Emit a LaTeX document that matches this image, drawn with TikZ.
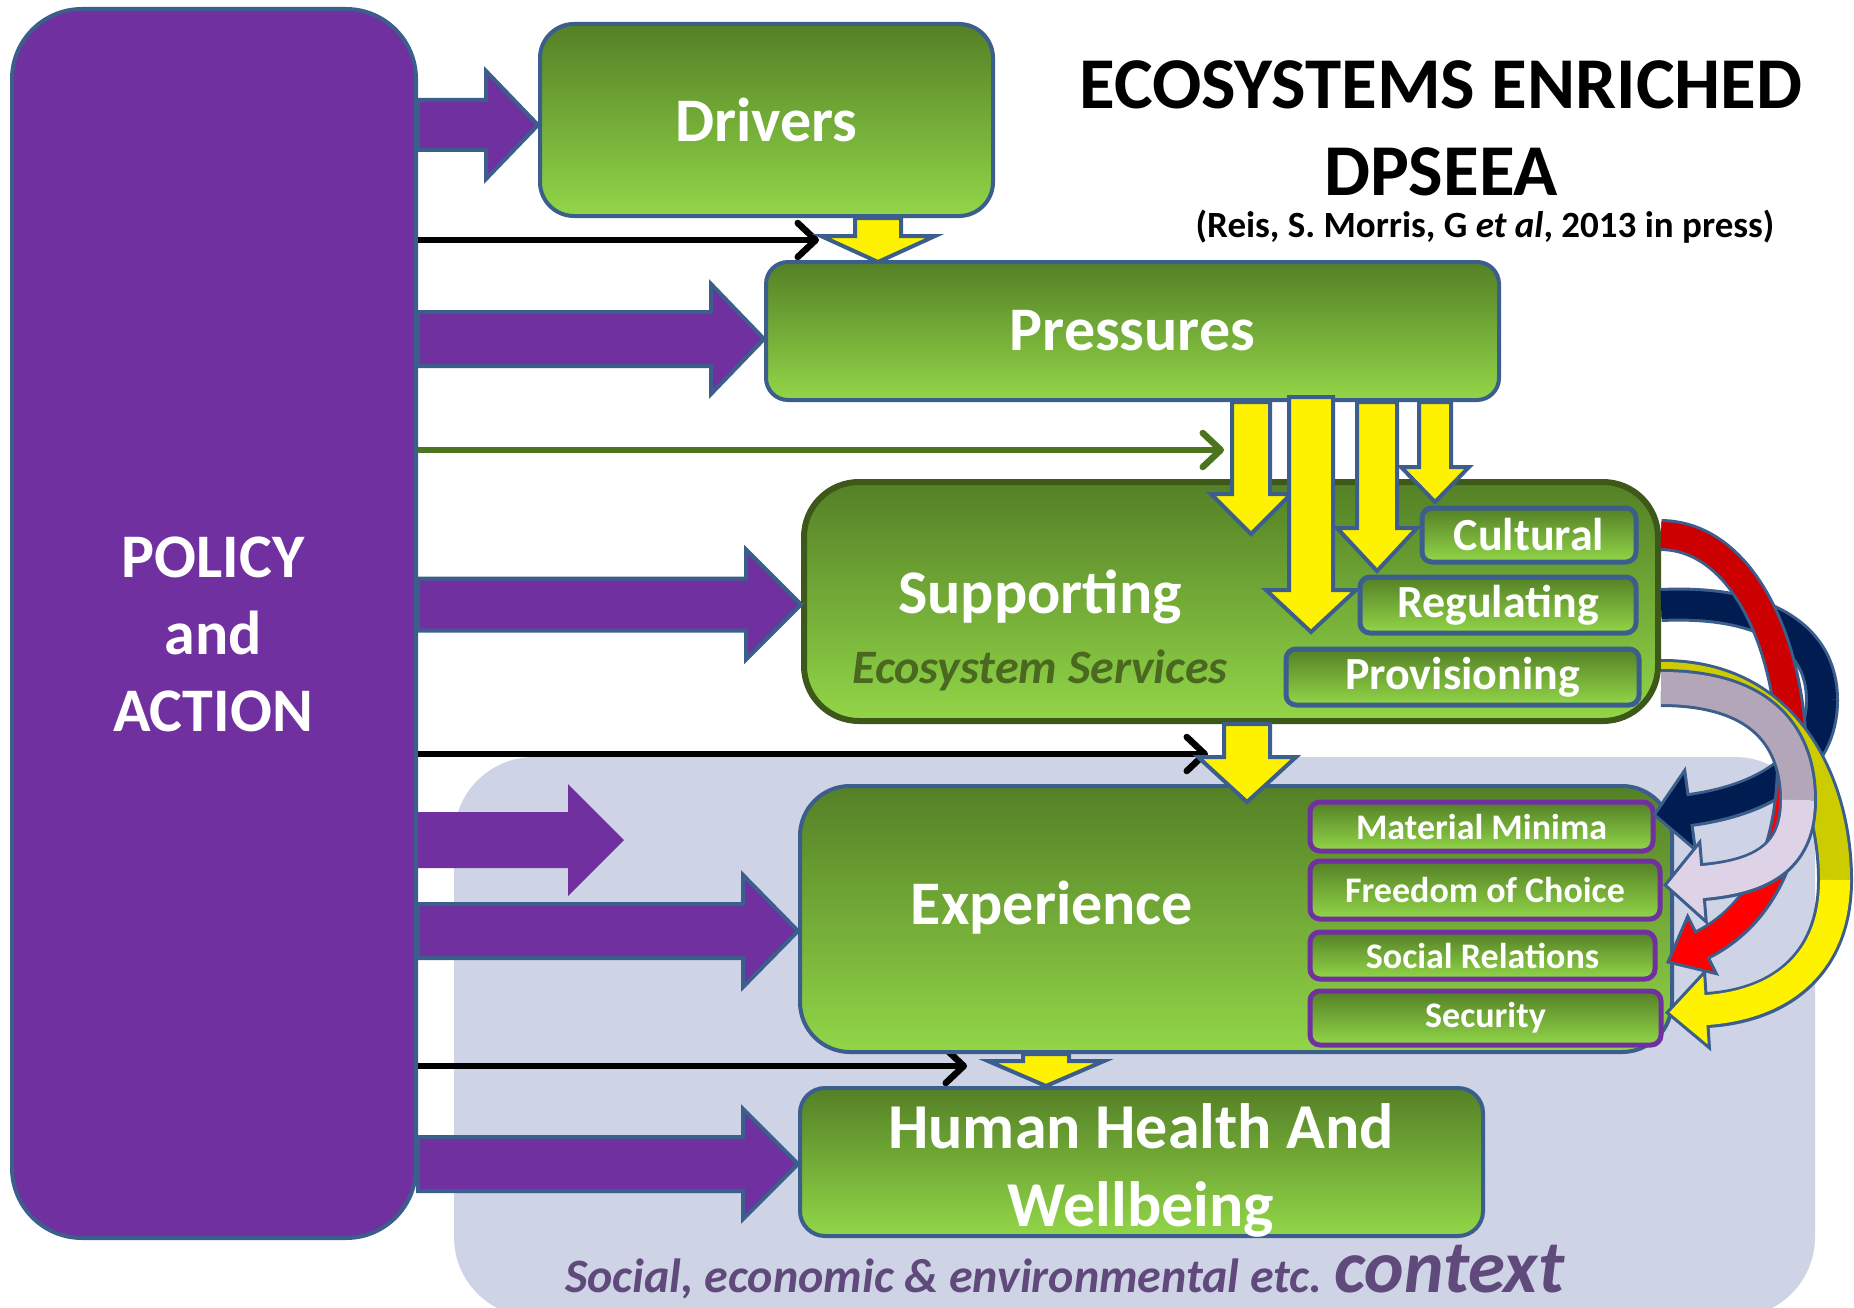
\documentclass[tikz,border=0pt]{standalone}
\usepackage{fontspec}
\setmainfont{Carlito}
\usetikzlibrary{calc,arrows.meta}

\definecolor{policypurple}{RGB}{112,48,160}
\definecolor{edgeblue}{RGB}{59,94,140}
\definecolor{greentop}{RGB}{84,128,38}
\definecolor{greenbot}{RGB}{146,214,72}
\definecolor{bevel}{RGB}{62,88,26}
\definecolor{ctxgrey}{RGB}{207,211,230}
\definecolor{ctxtext}{RGB}{96,74,123}
\definecolor{esgreen}{RGB}{74,104,32}
\definecolor{linegreen}{RGB}{76,115,30}
\definecolor{navyband}{RGB}{0,28,80}
\definecolor{reddark}{RGB}{204,0,0}
\definecolor{redlight}{RGB}{255,0,0}
\definecolor{yelldark}{RGB}{204,204,0}
\definecolor{lilacdark}{RGB}{178,166,184}
\definecolor{lilaclight}{RGB}{222,210,230}

\newcommand\fntbox{\fontsize{62}{77}\selectfont\bfseries}
\newcommand\fntserv{\fontsize{46}{52}\selectfont\bfseries}
\newcommand\fntexp{\fontsize{36}{42}\selectfont\bfseries}
\newcommand\fnttitle{\fontsize{73}{80}\selectfont\bfseries}
\newcommand\fntcite{\fontsize{37}{42}\selectfont\bfseries}
\newcommand\fntctx{\fontsize{48}{54}\selectfont\bfseries\itshape}
\newcommand\fntctxbig{\fontsize{75}{82}\selectfont\bfseries\itshape}

% block arrow to the right: style, from, to, shaft half, head half, head length
\newcommand\rarrow[6]{%
  \draw[#1] let \p1=(#2), \p2=(#3) in
    (\x1,{\y2+#4}) -- ({\x2-#6},{\y2+#4}) -- ({\x2-#6},{\y2+#5})
    -- (\x2,\y2) -- ({\x2-#6},{\y2-#5}) -- ({\x2-#6},{\y2-#4})
    -- (\x1,{\y2-#4}) -- cycle;}
% block arrow downwards
\newcommand\darrow[6]{%
  \draw[#1] let \p1=(#2), \p2=(#3) in
    ({\x2-#4},\y1) -- ({\x2-#4},{\y2+#6}) -- ({\x2-#5},{\y2+#6})
    -- (\x2,\y2) -- ({\x2+#5},{\y2+#6}) -- ({\x2+#4},{\y2+#6})
    -- ({\x2+#4},\y1) -- cycle;}
% curved band: name, colour 1, colour 2, width, edge width, controls 1, controls 2, head half
\newcommand\bandarrow[8]{%
  \draw[edgeblue,line width=#5] (#1-a) .. controls #6 .. (#1-m) .. controls #7 .. (#1-b);
  \filldraw[fill=#3,draw=edgeblue,line width=3pt,line join=miter]
    (#1-t) -- ($(#1-b)!#8!90:(#1-t)$) -- ($(#1-b)!#8!-90:(#1-t)$) -- cycle;
  \draw[#2,line width=#4] (#1-a) .. controls #6 .. (#1-m);
  \draw[#3,line width=#4,shorten >=-3pt] (#1-m) .. controls #7 .. (#1-b);}

\begin{document}
\begin{tikzpicture}[x=1pt,y=-1pt,
	greenbox/.style={draw=edgeblue,line width=4pt,top color=greentop,bottom color=greenbot,
		rounded corners=#1,text=white,font=\fntbox,inner sep=0pt},
	greenbox/.default=30pt,
	servbox/.style={draw=edgeblue,line width=5pt,top color=greentop,bottom color=greenbot,
		rounded corners=10pt,text=white,font=\fntserv,inner sep=0pt},
	expbox/.style={draw=policypurple,line width=5pt,top color=greentop,bottom color=greenbot,
		rounded corners=10pt,text=white,font=\fntexp,inner sep=0pt},
	policybox/.style={draw=edgeblue,line width=4pt,fill=policypurple,rounded corners=70pt},
	ctxbox/.style={fill=ctxgrey,rounded corners=80pt},
	parrow/.style={fill=policypurple,draw=edgeblue,line width=4pt},
	yarrow/.style={fill=yellow,draw=edgeblue,line width=4pt},
	thinline/.style={line width=6.5pt,-{Straight Barb[length=18pt,width=34pt,round]}}]
\useasboundingbox (0,0) rectangle (1854,1308);

% context background
\node[ctxbox,minimum width=1361,minimum height=560] (ctx) at (1134.5,1037) {};

% policy
\node[policybox,minimum width=404,minimum height=1229] (policy) at (214,623.5) {};
\node[text=white,font=\fntbox,align=center] (policylbl) at (213,634) {POLICY\\and\\ACTION};

% thin arrows
\coordinate (l1-end) at (819,240);
\coordinate (l2-end) at (1224,450);
\coordinate (l3-end) at (1208,754);
\coordinate (l4-end) at (967,1066);
\draw[thinline] (policy.east |- l1-end) -- (l1-end);
\draw[thinline,linegreen] (policy.east |- l2-end) -- (l2-end);
\draw[thinline] (policy.east |- l3-end) -- (l3-end);
\draw[thinline] (policy.east |- l4-end) -- (l4-end);

% DPSEEA boxes
\node[greenbox=34pt,minimum width=453,minimum height=192] (drivers) at (766.5,120) {Drivers};
\node[greenbox=22pt,minimum width=733,minimum height=138] (pressures) at (1132.5,331) {Pressures};
\node[greenbox=55pt,draw=bevel,line width=6pt,minimum width=854,minimum height=239] (supp) at (1231,601.5) {};
\node[text=white,font=\fntbox] (supplbl) at (1040,597) {Supporting};
\node[text=esgreen,font=\fontsize{48}{54}\selectfont\bfseries\itshape] (esslbl) at (1040,670) {Ecosystem Services};
\node[greenbox=50pt,minimum width=872,minimum height=266] (exp) at (1236,919) {};
\node[text=white,font=\fntbox] (explbl) at (1052,908) {Experience};
\node[greenbox=25pt,minimum width=683,minimum height=148] (human) at (1141.5,1162) {};
\node[text=white,align=center,font=\fontsize{64}{78}\selectfont\bfseries] (humanlbl) at (1141,1170) {Human Health And\\Wellbeing};

% services
\node[servbox,minimum width=214,minimum height=54] (cult) at (1529,535) {Cultural};
\node[servbox,minimum width=276,minimum height=56] (regul) at (1498,605) {Regulating};
\node[servbox,minimum width=353,minimum height=56] (provis) at (1462.5,677) {Provisioning};

% experience parts
\node[expbox,minimum width=343,minimum height=49] (matmin) at (1481.5,826.5) {Material Minima};
\node[expbox,minimum width=350,minimum height=58] (freedom) at (1485,890) {Freedom of Choice};
\node[expbox,minimum width=345,minimum height=47] (socrel) at (1482.5,955.5) {Social Relations};
\node[expbox,minimum width=351,minimum height=54] (secur) at (1485.5,1018) {Security};

% policy arrows
\coordinate (free) at (624,840);
\rarrow{parrow}{policy.east}{$(drivers.west)+(0,5)$}{25pt}{54pt}{52pt}
\rarrow{parrow}{policy.east}{$(pressures.west)+(0,8)$}{27pt}{55pt}{53pt}
\rarrow{parrow}{policy.east}{$(supp.west)+(0,3)$}{26pt}{55pt}{55pt}
\rarrow{parrow,draw=none}{policy.east}{free}{28pt}{56pt}{56pt}
\rarrow{parrow}{policy.east}{$(exp.west)+(0,12)$}{27pt}{56pt}{55pt}
\rarrow{parrow}{policy.east}{$(human.west)+(0,2)$}{27pt}{55pt}{55pt}

% yellow arrows
\coordinate (dp-tip) at (878,262);
\coordinate (pa-tip) at (1251,534);
\coordinate (pb-tip) at (1311,632);
\coordinate (pc-tip) at (1377,571);
\coordinate (pd-tip) at (1435,502);
\coordinate (se-tip) at (1247,802);
\coordinate (eh-tip) at (1046,1086);
\darrow{yarrow}{drivers.south}{dp-tip}{23pt}{57pt}{26pt}
\darrow{yarrow}{pressures.south}{pa-tip}{19pt}{40pt}{40pt}
\darrow{yarrow}{$(pressures.south)+(0,-5)$}{pb-tip}{22pt}{45pt}{42pt}
\darrow{yarrow}{pressures.south}{pc-tip}{20pt}{40pt}{43pt}
\darrow{yarrow}{pressures.south}{pd-tip}{16pt}{34pt}{35pt}
\darrow{yarrow}{supp.south}{se-tip}{23pt}{49pt}{45pt}
\darrow{yarrow}{exp.south}{eh-tip}{23pt}{58pt}{25pt}

% curved arrows from services to experience
\coordinate (navy-a) at (supp.east |- regul.east);
\coordinate (navy-m) at (1822,700);
\coordinate (navy-b) at (1690,810);
\coordinate (navy-t) at ($(navy-b)!-36pt!(1765,800)$);
\coordinate (red-a) at (supp.east |- cult.east);
\coordinate (red-m) at (1792,760);
\coordinate (red-b) at (1702,945);
\coordinate (red-t) at ($(red-b)!-38pt!(1762,915)$);
\coordinate (yel-a) at (supp.east |- provis.east);
\coordinate (yel-m) at (1835,880);
\coordinate (yel-b) at (1707,1010);
\coordinate (yel-t) at ($(yel-b)!-40pt!(1785,1005)$);
\coordinate (lil-a) at ($(supp.east |- provis.east)+(0,11)$);
\coordinate (lil-m) at (1798,800);
\coordinate (lil-b) at (1703,882);
\coordinate (lil-t) at ($(lil-b)!-38pt!(1765,877)$);
\bandarrow{navy}{navyband}{navyband}{28pt}{34pt}{(1770,600) and (1822,640)}{(1822,765) and (1765,800)}{40pt}
\bandarrow{red}{reddark}{redlight}{26pt}{32pt}{(1745,536) and (1792,650)}{(1792,850) and (1762,915)}{32pt}
\bandarrow{yel}{yelldark}{yellow}{30pt}{36pt}{(1790,676) and (1835,790)}{(1835,960) and (1785,1005)}{38pt}
\bandarrow{lil}{lilacdark}{lilaclight}{32pt}{38pt}{(1765,688) and (1798,740)}{(1798,855) and (1765,877)}{40pt}

% titles
\node[font=\fnttitle,inner sep=0pt] (title1) at (1441,85) {ECOSYSTEMS ENRICHED};
\node[font=\fnttitle,inner sep=0pt] (title2) at (1441,172) {DPSEEA};
\node[font=\fntcite,inner sep=0pt] (cite) at (1485,227) {(Reis, S. Morris, G \textit{et al}, 2013 in press)};

% context label
\node[font=\fntctx,text=ctxtext,anchor=base west,inner sep=0pt] (ctxsmall) at (565,1292) {Social, economic \& environmental etc.};
\node[font=\fntctxbig,text=ctxtext,anchor=base west,inner sep=0pt] (ctxbig) at ([xshift=12pt]ctxsmall.base east) {context};
\end{tikzpicture}
\end{document}
